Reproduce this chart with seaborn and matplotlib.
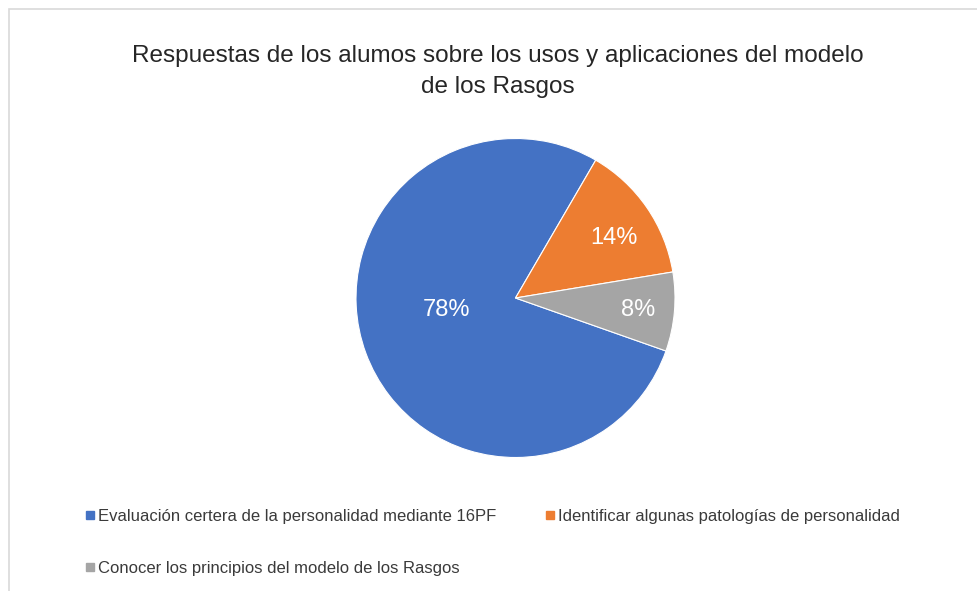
import matplotlib
matplotlib.use("Agg")
import matplotlib.pyplot as plt
from matplotlib.lines import Line2D
from matplotlib.patches import Rectangle
import seaborn as sns

# Data
categories = [
    "Evaluación certera de la personalidad mediante 16PF",
    "Identificar algunas patologías de personalidad",
    "Conocer los principios del modelo de los Rasgos",
]
shares = [78, 14, 8]
colors = ["#4472C4", "#ED7D31", "#A5A5A5"]
title = "Respuestas de los alumos sobre los usos y aplicaciones del modelo\nde los Rasgos"

# where each percentage label sits, in units of the pie radius
label_xy = [(-0.433, -0.075), (0.618, 0.376), (0.768, -0.075)]

sns.set_theme(style="white")
plt.rcParams["font.family"] = ["Liberation Sans", "DejaVu Sans"]
palette = sns.color_palette(colors)

W, H = 978, 591
fig = plt.figure(figsize=(W / 100, H / 100), dpi=100)
fig.patch.set_facecolor("white")

# chart-area frame (left and top edges visible)
fig.add_artist(Rectangle((8.5 / W, -0.05), 1.2, (H - 8.5) / H + 0.05,
                         transform=fig.transFigure, fill=False,
                         edgecolor="#d9d9d9", linewidth=1.2))

cx, cy, r = 515.5, 298.0, 159.5
ax = fig.add_axes([(cx - r) / W, (H - cy - r) / H, 2 * r / W, 2 * r / H])
wedges, _ = ax.pie(shares, colors=palette, startangle=-19.4, counterclock=False,
                   radius=1.0, wedgeprops=dict(edgecolor="white", linewidth=0.8))
ax.set_xlim(-1, 1)
ax.set_ylim(-1, 1)
ax.set_aspect("equal")
ax.axis("off")

for (lx, ly), val in zip(label_xy, shares):
    ax.text(lx, ly, f"{val}%", color="white", fontsize=17,
            ha="center", va="center")

fig.text(498 / W, 1 - 71.5 / H, title, ha="center", va="center",
         fontsize=17.5, color="#262626", linespacing=1.5)

handles = [Line2D([], [], marker="s", linestyle="none", markersize=5.2,
                  markerfacecolor=c, markeredgecolor=c) for c in palette]
order = [0, 2, 1]
fig.legend([handles[i] for i in order], [categories[i] for i in order],
           ncol=2, loc="upper left", bbox_to_anchor=(86 / W, 1 - 509 / H),
           frameon=False, fontsize=12, handlelength=0.45, handletextpad=0.25,
           columnspacing=3.0, labelspacing=2.2, labelcolor="#3a3a3a",
           borderaxespad=0, borderpad=0)

fig.savefig("out.png", dpi=100, facecolor="white")
